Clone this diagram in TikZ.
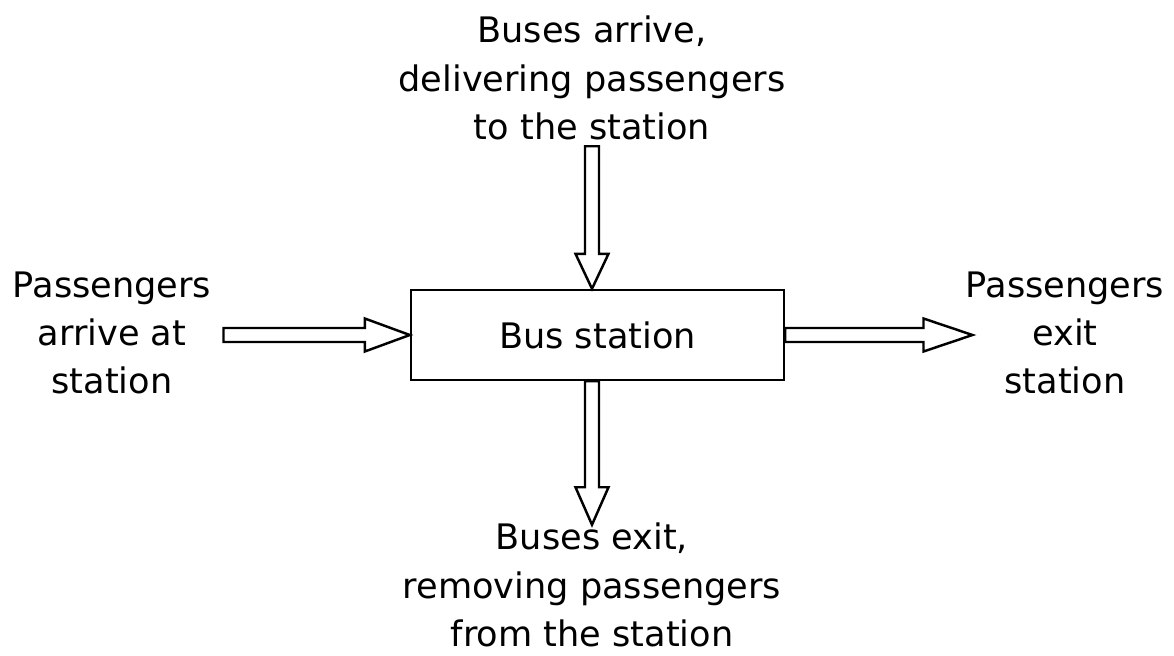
\documentclass[tikz,border=0pt]{standalone}
\usepackage{fontspec}
\setmainfont{DejaVu Sans}
\usetikzlibrary{positioning,calc}

\tikzset{
  lbl/.style={align=center, inner sep=0pt, font=\fontsize{20}{27.5}\selectfont},
  fatline/.style={draw, fill=white, line width=1.4pt, line join=miter},
}
\newcommand{\fatarrow}[3]{%
  \coordinate (neck) at ($(#2)!#3!(#1)$);
  \draw[fatline] ($(#1)!0.14cm!90:(#2)$) -- ($(neck)!0.14cm!90:(#2)$) -- ($(neck)!0.33cm!90:(#2)$) -- (#2)
    -- ($(neck)!0.33cm!-90:(#2)$) -- ($(neck)!0.14cm!-90:(#2)$) -- ($(#1)!0.14cm!-90:(#2)$) -- cycle;}

\begin{document}
\begin{tikzpicture}[x=0.02cm, y=-0.02cm]
  \useasboundingbox (0,0) rectangle (1174,656);
  \node[draw, line width=1.4pt, minimum width=7.46cm, minimum height=1.8cm, font=\fontsize{20}{25}\selectfont] (station) at (597.5,335) {Bus station};
  \node[lbl] (busin) at (592,78) {Buses arrive,\\delivering passengers\\to the station};
  \node[lbl] (busout) at (592,585) {Buses exit,\\removing passengers\\from the station};
  \node[lbl] (paxin) at (112,333) {Passengers\\arrive at\\station};
  \node[lbl] (paxout) at (1065,333) {Passengers\\exit\\station};

  \coordinate (a1) at ($(busin.south)+(0,6)$);
  \coordinate (a2) at (station.north -| a1);
  \coordinate (b1) at ($(paxin.east |- station.west)+(12,0)$);
  \coordinate (c2) at ($(paxout.west |- station.east)+(7,0)$);
  \coordinate (d1) at (station.south -| busout);
  \coordinate (d2) at ($(busout.north)+(0,2)$);
  \fatarrow{a1}{a2}{0.7cm}
  \fatarrow{b1}{station.west}{0.9cm}
  \fatarrow{station.east}{c2}{0.98cm}
  \fatarrow{d1}{d2}{0.75cm}
\end{tikzpicture}
\end{document}
